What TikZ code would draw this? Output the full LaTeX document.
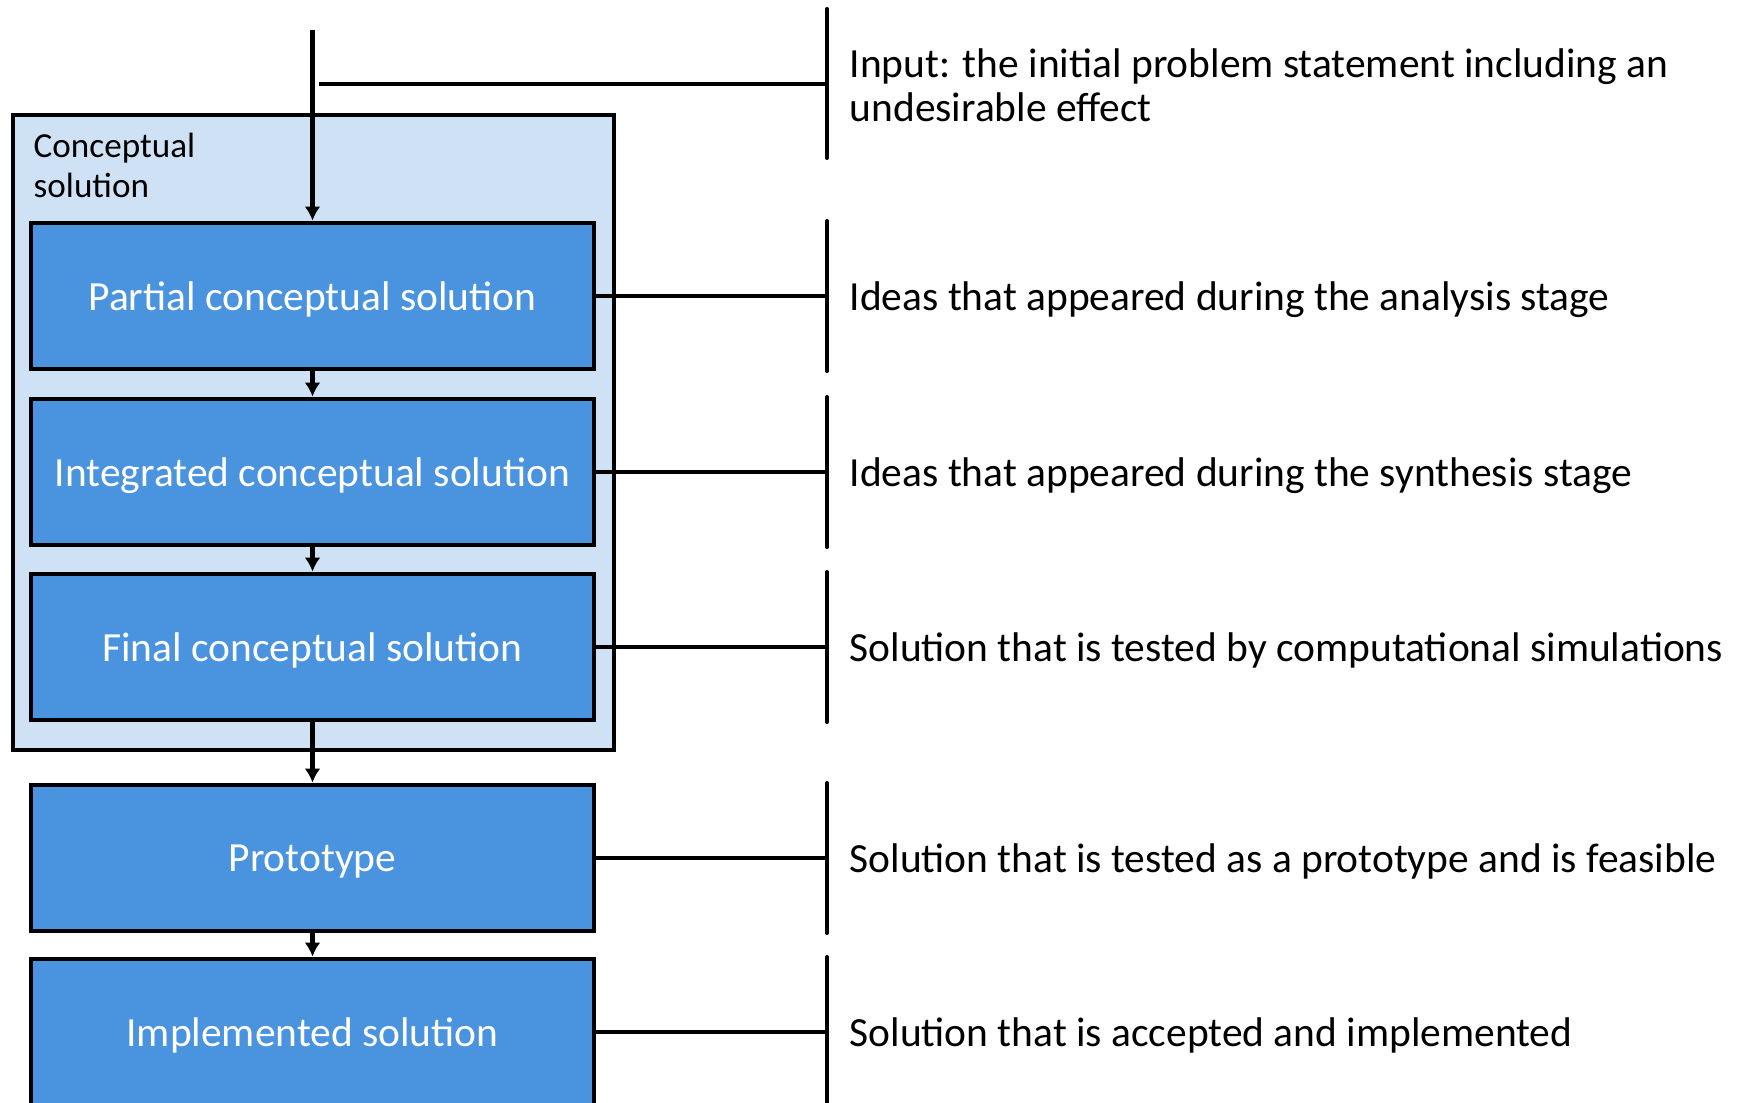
\documentclass[tikz,border=0pt]{standalone}
\usepackage{fontspec}
\setmainfont{Carlito}
\usepackage{tikz}
\usetikzlibrary{calc,arrows.meta}
\definecolor{stageblue}{HTML}{4A93DF}
\definecolor{groupblue}{HTML}{CFE2F5}
\tikzset{
  stagebox/.style={draw=black, line width=1.4pt, fill=stageblue, text=white,
    minimum width=5.63cm, minimum height=1.46cm, inner sep=0pt, text depth=0pt,
    font=\fontsize{11.8}{13}\selectfont},
  bar/.style={line width=1.15pt, line cap=round},
  flow/.style={line width=1.15pt, -{Latex[length=0.14cm,width=0.16cm]}},
  note/.style={anchor=west, align=left, inner sep=0pt, text depth=0pt,
    font=\fontsize{11.8}{12.5}\selectfont}
}
\begin{document}
\begin{tikzpicture}
\useasboundingbox (0,0) rectangle (17.38,-11.03);
\fill[groupblue, draw=black, line width=1.15pt] (0.13,-1.15) rectangle (6.14,-7.50);
\node[anchor=north west, align=left, inner sep=0pt, font=\fontsize{10}{11.4}\selectfont] (group) at (0.33,-1.32) {Conceptual\\solution};
\node[stagebox] (partial) at (3.125,-2.96) {Partial conceptual solution};
\node[stagebox] (integrated) at (3.125,-4.72) {Integrated conceptual solution};
\node[stagebox] (final) at (3.125,-6.47) {Final conceptual solution};
\node[stagebox] (proto) at (3.125,-8.58) {Prototype};
\node[stagebox] (impl) at (3.125,-10.32) {Implemented solution};
\coordinate (start) at (3.125,-0.30);
\coordinate (tap) at (3.19,-0.84);
\draw[flow] (start) -- (partial);
\draw[flow] (partial) -- (integrated);
\draw[flow] (integrated) -- (final);
\draw[flow] (final) -- (proto);
\draw[flow] (proto) -- (impl);
% side bars
\draw[bar] (8.27,-0.09) coordinate (inbar) -- (8.27,-1.58);
\draw[bar] (8.27,-2.21) -- (8.27,-3.71);
\draw[bar] (8.27,-3.97) -- (8.27,-5.47);
\draw[bar] (8.27,-5.72) -- (8.27,-7.22);
\draw[bar] (8.27,-7.83) -- (8.27,-9.33);
\draw[bar] (8.27,-9.57) -- (8.27,-11.07);
\draw[bar, line cap=butt] (tap) -- (tap -| inbar);
\draw[bar, line cap=butt] (partial.east) -- (partial.east -| inbar);
\draw[bar, line cap=butt] (integrated.east) -- (integrated.east -| inbar);
\draw[bar, line cap=butt] (final.east) -- (final.east -| inbar);
\draw[bar, line cap=butt] (proto.east) -- (proto.east -| inbar);
\draw[bar, line cap=butt] (impl.east) -- (impl.east -| inbar);
\node[note] (ninput) at (8.49,-0.85) {Input: the initial problem statement including an\\undesirable effect};
\node[note] (npartial) at (8.49,-2.96) {Ideas that appeared during the analysis stage};
\node[note] (nintegrated) at (8.49,-4.72) {Ideas that appeared during the synthesis stage};
\node[note] (nfinal) at (8.49,-6.47) {Solution that is tested by computational simulations};
\node[note] (nproto) at (8.49,-8.58) {Solution that is tested as a prototype and is feasible};
\node[note] (nimpl) at (8.49,-10.32) {Solution that is accepted and implemented};
\end{tikzpicture}
\end{document}
